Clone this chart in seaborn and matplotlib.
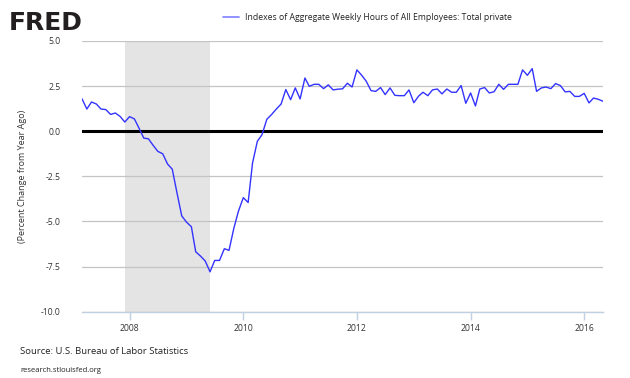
import pandas as pd
import matplotlib
matplotlib.use("Agg")
import matplotlib.pyplot as plt
import matplotlib.dates as mdates
import seaborn as sns

# === Data: percent change from year ago, monthly ===
start_month = "2007-03-01"
values = [
    # 2007 (Mar-Dec)
    1.80, 1.23, 1.62, 1.51, 1.23, 1.20, 0.93, 1.01, 0.82, 0.51,
    # 2008
    0.81, 0.68, 0.18, -0.38, -0.42, -0.79, -1.12, -1.25, -1.82, -2.10, -3.43, -4.69,
    # 2009
    -5.04, -5.29, -6.68, -6.92, -7.19, -7.79, -7.16, -7.16, -6.51, -6.60, -5.38, -4.42,
    # 2010
    -3.68, -3.95, -1.77, -0.56, -0.19, 0.66, 0.92, 1.23, 1.51, 2.31, 1.75, 2.40,
    # 2011
    1.79, 2.95, 2.49, 2.60, 2.60, 2.36, 2.57, 2.29, 2.33, 2.35, 2.66, 2.45,
    # 2012
    3.40, 3.10, 2.77, 2.25, 2.21, 2.42, 2.03, 2.40, 1.99, 1.97, 1.97, 2.29,
    # 2013
    1.58, 1.95, 2.16, 1.97, 2.29, 2.34, 2.07, 2.34, 2.16, 2.16, 2.53, 1.55,
    # 2014
    2.12, 1.40, 2.34, 2.42, 2.12, 2.19, 2.60, 2.32, 2.60, 2.60, 2.60, 3.40,
    # 2015
    3.10, 3.47, 2.21, 2.40, 2.45, 2.36, 2.64, 2.53, 2.18, 2.21, 1.93, 1.93,
    # 2016 (Jan-May)
    2.10, 1.57, 1.84, 1.77, 1.66,
]
recession = ["2007-12-01", "2009-06-01"]
y_ticks = [5.0, 2.5, 0.0, -2.5, -5.0, -7.5, -10.0]
x_tick_years = [2008, 2010, 2012, 2014, 2016]
series_label = "Indexes of Aggregate Weekly Hours of All Employees: Total private"

df = pd.DataFrame({
    "fecha": pd.date_range(start_month, periods=len(values), freq="MS"),
    "valor": values,
})

# === Figure ===
sns.set_theme(style="white")
plt.rcParams["font.family"] = ["Open Sans", "DejaVu Sans"]

fig = plt.figure(figsize=(6.3, 3.78), dpi=100)
ax = fig.add_axes([82 / 630, 1 - 311.7 / 378, 521 / 630, 270.7 / 378])

ax.axvspan(pd.Timestamp(recession[0]), pd.Timestamp(recession[1]), color="#e4e4e4", lw=0, zorder=0)
for t in y_ticks:
    ax.axhline(t, color="#c4c4c4", lw=0.9, zorder=1)
ax.axhline(0, color="black", lw=2.2, zorder=2)

line_color = "#3333ff"
sns.lineplot(data=df, x="fecha", y="valor", color=line_color, lw=1.0, ax=ax, zorder=3)

ax.set_xlim(df["fecha"].iloc[0], df["fecha"].iloc[-1])
ax.set_ylim(-10, 5)
ax.set_yticks(y_ticks)
ax.set_yticklabels([f"{t:.1f}" for t in y_ticks])
ax.set_xticks([pd.Timestamp(f"{y}-01-01") for y in x_tick_years])
ax.xaxis.set_major_formatter(mdates.DateFormatter("%Y"))

for s in ["top", "right", "left"]:
    ax.spines[s].set_visible(False)
ax.spines["bottom"].set_color("#c0d0e0")
ax.spines["bottom"].set_linewidth(1.0)
ax.tick_params(axis="x", bottom=True, length=6, width=1, color="#c0d0e0",
               labelsize=6.2, labelcolor="#333333", pad=3)
ax.tick_params(axis="y", left=False, labelsize=6.2, labelcolor="#333333", pad=9.5)
ax.set_xlabel("")
ax.set_ylabel("(Percent Change from Year Ago)", fontsize=6.5, color="#333333", labelpad=10)

# === Header: logo + legend ===
fig.text(9 / 630, 1 - 30 / 378, "FRED", fontsize=18, fontweight="bold", color="#231f20",
         family=["DejaVu Sans"], va="baseline")
fig.lines.append(plt.Line2D([223 / 630, 239 / 630], [1 - 17 / 378, 1 - 17 / 378],
                            transform=fig.transFigure, color="#7f7fff", lw=1.2))
fig.text(245 / 630, 1 - 17 / 378, series_label, fontsize=6.2, color="#222222", va="center")

# === Footer ===
fig.text(20 / 630, 1 - 352 / 378, "Source: U.S. Bureau of Labor Statistics", fontsize=6.8,
         color="#222222", va="center")
fig.text(20 / 630, 1 - 371 / 378, "research.stlouisfed.org", fontsize=5.5,
         color="#222222", va="center")

fig.savefig("out.png", dpi=100)
